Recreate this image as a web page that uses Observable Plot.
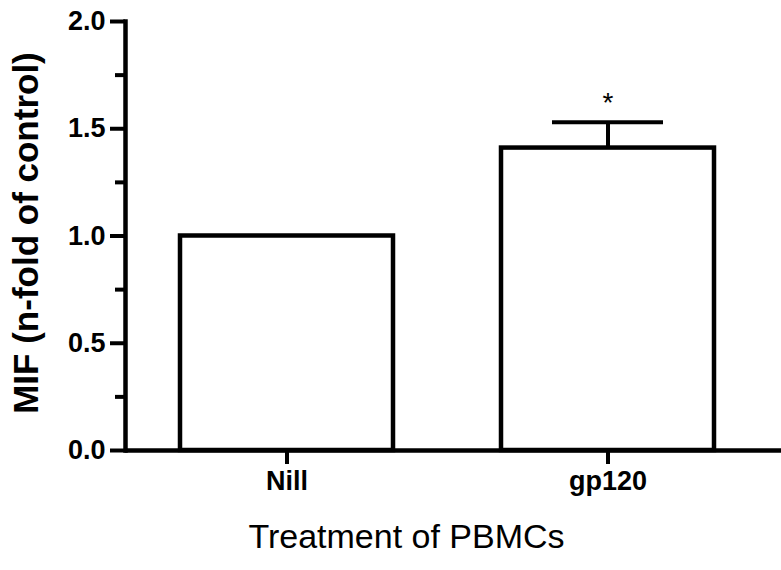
<!DOCTYPE html>
<html>
<head>
<meta charset="utf-8">
<script src="https://cdn.jsdelivr.net/npm/d3@7"></script>
<script src="https://cdn.jsdelivr.net/npm/@observablehq/plot@0.6"></script>
<style>
  html, body { margin: 0; padding: 0; background: #ffffff; }
  #chart svg { display: block; }
</style>
</head>
<body>
<div id="chart"></div>
<script>
// ---- data ----
const categories = ["Nill", "gp120"];
const values = [1.0, 1.41];
const errors = [0, 0.12];
const significance = ["", "*"];
const yTicks = [0, 0.5, 1.0, 1.5, 2.0];
const yMinorTicks = [0.25, 0.75, 1.25, 1.75];
const yTitle = "MIF (n-fold of control)";
const xTitle = "Treatment of PBMCs";

const data = categories.map((c, i) => ({cat: c, v: values[i], e: errors[i], sig: significance[i]}));
const withErr = data.filter(d => d.e > 0);

const font = "'Liberation Sans', Arial, Helvetica, sans-serif";
const ink = "#000000";

const chart = Plot.plot({
  width: 781,
  height: 570,
  marginLeft: 125,
  marginRight: 0,
  marginTop: 21,
  marginBottom: 120,
  style: {fontFamily: font, background: "#ffffff", color: ink, overflow: "visible"},
  x: {domain: categories, paddingInner: 0.335, paddingOuter: 0.189, align: 0.456},
  y: {domain: [0, 2]},
  marks: [
    Plot.barY(data, {x: "cat", y: "v", fill: "#ffffff", stroke: ink, strokeWidth: 4.5}),
    Plot.ruleY([0], {stroke: ink, strokeWidth: 4.5}),
    Plot.frame({anchor: "left", stroke: ink, strokeWidth: 4.5}),
    Plot.axisY(yTicks, {tickSize: 15, tickPadding: 5, strokeWidth: 4, stroke: ink, fill: ink,
      fontSize: 27, fontWeight: "bold", tickFormat: d3.format(".1f"), label: null}),
    Plot.axisY(yMinorTicks, {tickSize: 10, strokeWidth: 4, stroke: ink, tickFormat: () => "", label: null}),
    Plot.axisX({tickSize: 14, tickPadding: 6, strokeWidth: 4, stroke: ink, fill: ink,
      fontSize: 27, fontWeight: "bold", label: null}),
    Plot.ruleX(withErr, {x: "cat", y1: "v", y2: d => d.v + d.e, stroke: ink, strokeWidth: 4}),
    Plot.tickY(withErr, {x: "cat", y: d => d.v + d.e, stroke: ink, strokeWidth: 4, insetLeft: 51, insetRight: 51}),
    Plot.text(withErr, {x: "cat", y: d => d.v + d.e, text: "sig", dy: -19, fontSize: 28, fill: ink}),
    Plot.text([yTitle], {frameAnchor: "left", textAnchor: "middle", rotate: -90, dx: -99, dy: -3, fontSize: 35, fontWeight: "bold", fill: ink}),
    Plot.text([xTitle], {frameAnchor: "bottom", textAnchor: "middle", dx: -47, dy: 97, fontSize: 34, fill: ink})
  ]
});

document.getElementById("chart").appendChild(chart);
</script>
</body>
</html>
